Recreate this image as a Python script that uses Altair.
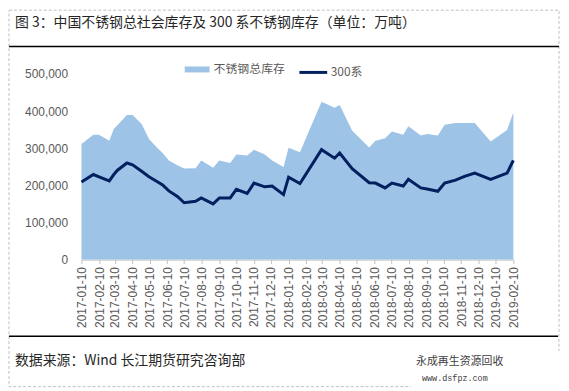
import altair as alt
import pandas as pd

# ---- data ----
dates = [
    "2017-01-10", "2017-01-31", "2017-02-10", "2017-02-28", "2017-03-08", "2017-03-14",
    "2017-03-31", "2017-04-10", "2017-04-26", "2017-05-09", "2017-05-23", "2017-06-02",
    "2017-06-13", "2017-06-28", "2017-07-10", "2017-07-30", "2017-08-09", "2017-08-30",
    "2017-09-10", "2017-09-29", "2017-10-10", "2017-10-29", "2017-11-10", "2017-11-29",
    "2017-12-12", "2018-01-01", "2018-01-10", "2018-01-30", "2018-03-09", "2018-04-01",
    "2018-04-10", "2018-05-02", "2018-06-01", "2018-06-12", "2018-06-29", "2018-07-11",
    "2018-07-31", "2018-08-09", "2018-08-31", "2018-09-11", "2018-09-30", "2018-10-12",
    "2018-10-31", "2018-11-16", "2018-12-04", "2019-01-01", "2019-01-30", "2019-02-10",
]
total_stock = [
    311000, 336000, 336000, 320000, 352000, 361000, 389000, 389000, 365000, 325000,
    302000, 287000, 267000, 254000, 245000, 246000, 267000, 247000, 267000, 260000,
    283000, 280000, 296000, 283000, 267000, 249000, 301000, 289000, 425000, 409000,
    416000, 347000, 302000, 320000, 327000, 345000, 336000, 359000, 334000, 338000,
    334000, 363000, 368000, 368000, 368000, 318000, 349000, 396000,
]
series_300 = [
    209000, 229000, 223000, 212000, 229000, 240000, 260000, 255000, 238000, 223000,
    210000, 201000, 185000, 170000, 153000, 157000, 166000, 150000, 166000, 166000,
    189000, 178000, 206000, 196000, 198000, 175000, 222000, 205000, 296000, 273000,
    287000, 245000, 207000, 206000, 193000, 206000, 198000, 216000, 193000, 190000,
    184000, 206000, 214000, 224000, 233000, 216000, 233000, 267000,
]
name_total = "不锈钢总库存"
name_300 = "300系"
y_ticks = [0, 100000, 200000, 300000, 400000, 500000]
tick_months = [(2017, m) for m in range(1, 13)] + [(2018, m) for m in range(1, 13)] + [(2019, 1), (2019, 2)]

title_text = "图 3：中国不锈钢总社会库存及 300 系不锈钢库存（单位：万吨）"
source_text = "数据来源：Wind   长江期货研究咨询部"
wm1 = "永成再生资源回收"
wm2 = "www.dsfpz.com"

df = pd.DataFrame({
    "date": [d + "T00:00" for d in dates],
    "total": total_stock,
    "s300": series_300,
})

AREA = "#9DC3E6"
LINE = "#002060"
GRAY = "#595959"
NUM_FONT = "Liberation Sans"
CJK = "Noto Sans CJK SC"

x_scale = alt.Scale(domain=[alt.DateTime(year=2017, month=1, date=10),
                            alt.DateTime(year=2019, month=2, date=10)])
x_axis = alt.Axis(
    values=[alt.DateTime(year=y, month=m, date=10) for y, m in tick_months],
    format="%Y-%m-%d", labelAngle=270, labelFont=NUM_FONT, labelFontSize=12,
    labelColor=GRAY, tickColor="#bfbfbf", tickSize=4, domainColor="#bfbfbf",
    labelPadding=3, grid=False, labelOverlap=False,
)
y_scale = alt.Scale(domain=[0, 500000], nice=False)
y_axis = alt.Axis(values=y_ticks, format=",.0f", domain=False, ticks=False, grid=False,
                  labelFont=NUM_FONT, labelFontSize=12, labelColor=GRAY, labelPadding=14)

base = alt.Chart(df)

area = base.mark_area(opacity=1).transform_calculate(series="'" + name_total + "'").encode(
    x=alt.X("date:T", title=None, scale=x_scale, axis=x_axis),
    y=alt.Y("total:Q", title=None, scale=y_scale, axis=y_axis),
    fill=alt.Fill("series:N", scale=alt.Scale(domain=[name_total], range=[AREA]),
                  legend=alt.Legend(title=None, orient="none", legendX=104, legendY=-17,
                                    symbolType="M-1,-0.24H1V0.24H-1Z", symbolSize=625,
                                    symbolStrokeWidth=0, labelFont=CJK, labelFontSize=12,
                                    labelColor=GRAY, labelOffset=4, padding=0)),
)

line = base.mark_line(strokeWidth=3).transform_calculate(series2="'" + name_300 + "'").encode(
    x=alt.X("date:T", title=None, scale=x_scale, axis=x_axis),
    y=alt.Y("s300:Q", title=None, scale=y_scale, axis=y_axis),
    stroke=alt.Stroke("series2:N", scale=alt.Scale(domain=[name_300], range=[LINE]),
                      legend=alt.Legend(title=None, orient="none", legendX=218, legendY=-17,
                                        symbolType="stroke", symbolSize=784, symbolStrokeWidth=3,
                                        labelFont=CJK, labelFontSize=12, labelColor=GRAY,
                                        labelOffset=2, padding=0)),
)

one = alt.Chart(pd.DataFrame({"k": [0]}))

border = one.mark_rect(fillOpacity=0, stroke="#c0c0c0", strokeDash=[3, 2], strokeWidth=1).encode(
    x=alt.value(-73), x2=alt.value(481), y=alt.value(-64.2), y2=alt.value(315))
wm_box = one.mark_rect(fill="white").encode(
    x=alt.value(332), x2=alt.value(487), y=alt.value(279), y2=alt.value(320))
top_rule = one.mark_rule(color="black", strokeWidth=1.5).encode(
    x=alt.value(-73), x2=alt.value(481), y=alt.value(-27.7))
bot_rule = one.mark_rule(color="black", strokeWidth=1.5).encode(
    x=alt.value(-73), x2=alt.value(480), y=alt.value(264.3))
title = one.mark_text(align="left", baseline="middle", font=CJK, fontSize=14, color="#262626").encode(
    x=alt.value(-67), y=alt.value(-51.7), text=alt.value(title_text))
source = one.mark_text(align="left", baseline="middle", font=CJK, fontSize=14, color="#262626").encode(
    x=alt.value(-67), y=alt.value(289.3), text=alt.value(source_text))
wmark1 = one.mark_text(align="left", baseline="middle", font=CJK, fontSize=11, color="#404040").encode(
    x=alt.value(337), y=alt.value(290.3), text=alt.value(wm1))
wmark2 = one.mark_text(align="left", baseline="middle", font="Liberation Mono", fontSize=8.5, color="#404040").encode(
    x=alt.value(343), y=alt.value(306.3), text=alt.value(wm2))

chart = alt.layer(area, line, border, wm_box, top_rule, bot_rule, title, source, wmark1, wmark2).properties(
    width=435, height=187,
    autosize=alt.AutoSizeParams(type="none"),
    padding={"left": 74, "top": 65, "right": 48, "bottom": 131},
    background="white",
).configure_view(stroke=None)

chart.save("out.html", embed_options={"renderer": "svg", "actions": False})
